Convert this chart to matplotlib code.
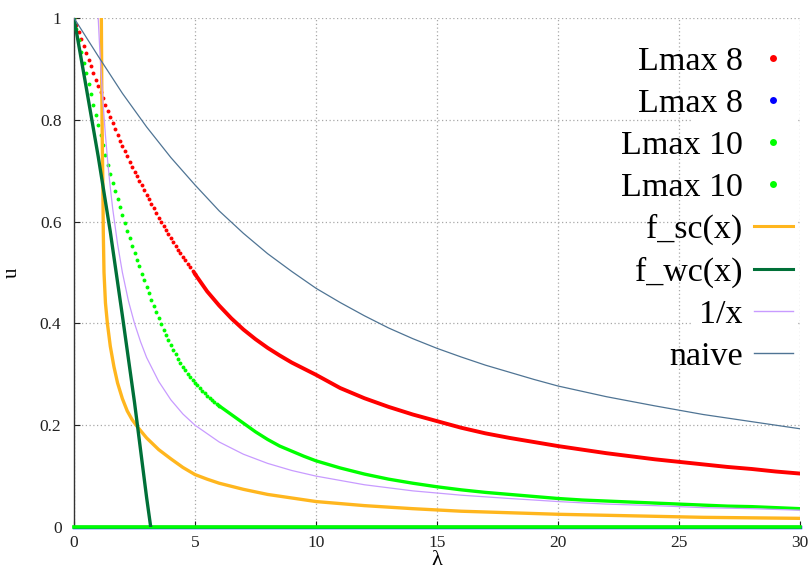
#!/usr/bin/env python3
from __future__ import annotations

import matplotlib

matplotlib.use("Agg")
import matplotlib.pyplot as plt
from matplotlib.lines import Line2D
from matplotlib.patches import Rectangle


# Lmax 8 (red): separate dots near the start, merged into a thick band later
RED_LAM_DOTS = [
    0.0, 0.1, 0.2, 0.3, 0.4, 0.5, 0.6, 0.7, 0.8, 0.9,
    1.0, 1.1, 1.2, 1.3, 1.4, 1.5, 1.6, 1.7, 1.8, 1.9,
    2.0, 2.1, 2.2, 2.3, 2.4, 2.5, 2.6, 2.7, 2.8, 2.9,
    3.0, 3.1, 3.2, 3.3, 3.4, 3.5, 3.6, 3.7, 3.8, 3.9,
    4.0, 4.1, 4.2, 4.3, 4.4, 4.5, 4.6, 4.7, 4.8, 4.9, 5.0,
]
RED_U_DOTS = [
    1.000, 0.986, 0.972, 0.958, 0.945, 0.931, 0.918, 0.905, 0.892, 0.879,
    0.867, 0.854, 0.842, 0.830, 0.818, 0.806, 0.794, 0.782, 0.770, 0.759,
    0.748, 0.738, 0.728, 0.718, 0.708, 0.698, 0.689, 0.680, 0.671, 0.662,
    0.653, 0.644, 0.635, 0.626, 0.617, 0.608, 0.599, 0.591, 0.583, 0.575,
    0.567, 0.559, 0.552, 0.545, 0.538, 0.531, 0.524, 0.517, 0.510, 0.503, 0.497,
]
RED_LAM_TAIL = [
    5.0, 5.5, 6.0, 6.5, 7.0, 7.5, 8.0, 8.5, 9.0, 9.5, 10, 11, 12, 13, 14, 15,
    16, 17, 18, 19, 20, 21, 22, 23, 24, 25, 26, 27, 28, 29, 30,
]
RED_U_TAIL = [
    0.497, 0.463, 0.435, 0.410, 0.388, 0.369, 0.352, 0.337, 0.323, 0.311,
    0.299, 0.273, 0.253, 0.236, 0.221, 0.208, 0.195, 0.184, 0.175, 0.167,
    0.159, 0.152, 0.145, 0.139, 0.133, 0.128, 0.123, 0.118, 0.114, 0.109, 0.105,
]

# Lmax 10 (green)
GREEN_LAM_DOTS = [
    0.0, 0.1, 0.2, 0.3, 0.4, 0.5, 0.6, 0.7, 0.8, 0.9,
    1.0, 1.1, 1.2, 1.3, 1.4, 1.5, 1.6, 1.7, 1.8, 1.9,
    2.0, 2.1, 2.2, 2.3, 2.4, 2.5, 2.6, 2.7, 2.8, 2.9,
    3.0, 3.1, 3.2, 3.3, 3.4, 3.5, 3.6, 3.7, 3.8, 3.9,
    4.0, 4.1, 4.2, 4.3, 4.4, 4.5, 4.6, 4.7, 4.8, 4.9,
    5.0, 5.1, 5.2, 5.3, 5.4, 5.5, 5.6, 5.7, 5.8, 5.9, 6.0,
]
GREEN_U_DOTS = [
    1.000, 0.978, 0.956, 0.934, 0.912, 0.891, 0.870, 0.850, 0.829, 0.809,
    0.789, 0.770, 0.750, 0.731, 0.712, 0.694, 0.676, 0.660, 0.644, 0.628,
    0.612, 0.597, 0.582, 0.567, 0.553, 0.539, 0.525, 0.512, 0.498, 0.485,
    0.472, 0.459, 0.446, 0.434, 0.422, 0.410, 0.399, 0.388, 0.377, 0.367,
    0.357, 0.348, 0.339, 0.331, 0.323, 0.315, 0.308, 0.301, 0.295, 0.289,
    0.283, 0.278, 0.273, 0.268, 0.263, 0.258, 0.254, 0.250, 0.246, 0.242, 0.238,
]
GREEN_LAM_TAIL = [
    6.0, 6.5, 7.0, 7.5, 8.0, 8.5, 9.0, 9.5, 10, 11, 12, 13, 14, 15,
    16, 17, 18, 19, 20, 21, 22, 23, 24, 25, 26, 27, 28, 29, 30,
]
GREEN_U_TAIL = [
    0.238, 0.221, 0.204, 0.187, 0.172, 0.159, 0.149, 0.139, 0.130, 0.116,
    0.104, 0.094, 0.086, 0.079, 0.073, 0.068, 0.064, 0.060, 0.056, 0.053,
    0.051, 0.049, 0.047, 0.045, 0.043, 0.041, 0.040, 0.038, 0.036,
]

# second Lmax 8 / Lmax 10 runs sit on u = 0
ZERO_LAM = [0, 5, 10, 15, 20, 25, 30]
ZERO_U = [0, 0, 0, 0, 0, 0, 0]

SC_LAM = [
    1.12, 1.13, 1.15, 1.17, 1.19, 1.21, 1.24, 1.30, 1.38, 1.50, 1.65, 1.80,
    2.0, 2.2, 2.4, 2.6, 3.0, 3.5, 4.0, 4.5, 5.0, 5.5, 6, 7, 8, 9, 10, 12, 14,
    16, 18, 20, 22, 24, 26, 28, 30,
]
SC_U = [
    1.05, 1.00, 0.85, 0.75, 0.68, 0.58, 0.50, 0.44, 0.40, 0.355, 0.315, 0.283,
    0.252, 0.228, 0.211, 0.198, 0.175, 0.152, 0.134, 0.117, 0.103, 0.094,
    0.086, 0.074, 0.064, 0.057, 0.050, 0.042, 0.036, 0.031, 0.028, 0.025,
    0.023, 0.021, 0.019, 0.018, 0.017,
]

WC_LAM = [0.0, 0.5, 1.0, 1.5, 2.0, 2.5, 3.0, 3.17]
WC_U = [1.0, 0.865, 0.728, 0.58, 0.415, 0.245, 0.058, 0.0]

INV_LAM = [
    0.97, 1.0, 1.05, 1.1, 1.2, 1.3, 1.4, 1.5, 1.6, 1.8, 2.0, 2.25, 2.5, 2.75,
    3.0, 3.5, 4.0, 4.5, 5, 6, 7, 8, 9, 10, 12, 14, 16, 18, 20, 22, 24, 26, 28, 30,
]
INV_U = [
    1.031, 1.0, 0.952, 0.909, 0.833, 0.769, 0.714, 0.667, 0.625, 0.556, 0.5,
    0.444, 0.4, 0.364, 0.333, 0.286, 0.25, 0.222, 0.2, 0.167, 0.143, 0.125,
    0.111, 0.1, 0.083, 0.071, 0.0625, 0.056, 0.05, 0.045, 0.042, 0.038,
    0.036, 0.033,
]

NAIVE_LAM = [0, 1, 2, 3, 4, 5, 6, 7, 8, 9, 10, 11, 12, 13, 14, 15, 16, 17,
             18, 19, 20, 22, 24, 26, 28, 30]
NAIVE_U = [1.0, 0.925, 0.852, 0.786, 0.726, 0.672, 0.621, 0.577, 0.537,
           0.502, 0.469, 0.441, 0.415, 0.391, 0.370, 0.351, 0.334, 0.318,
           0.304, 0.290, 0.277, 0.256, 0.238, 0.221, 0.207, 0.193]

X_TICKS = [0, 5, 10, 15, 20, 25, 30]
Y_TICKS = [0, 0.2, 0.4, 0.6, 0.8, 1]
Y_TICK_LABELS = ["0", "0.2", "0.4", "0.6", "0.8", "1"]

LEGEND_LABELS = ["Lmax 8", "Lmax 8", "Lmax 10", "Lmax 10",
                 "f_sc(x)", "f_wc(x)", "1/x", "naive"]

RED = "#ff0000"
BLUE = "#0000ff"
GREEN = "#00ff00"
ORANGE = "#ffb61e"
DARK_GREEN = "#007038"
LAVENDER = "#c89bff"
STEEL = "#4f7494"

SERIF = ["Liberation Serif", "DejaVu Serif"]


def main() -> int:
    plt.rcParams["font.family"] = SERIF
    W, H = 811, 574
    fig = plt.figure(figsize=(W / 100, H / 100), dpi=100)
    x0, x1, y0, y1 = 74, 800, 527, 18
    ax = fig.add_axes([x0 / W, 1 - y0 / H, (x1 - x0) / W, (y0 - y1) / H])

    ax.set_xlim(0, 30)
    ax.set_ylim(0, 1)
    ax.set_xticks(X_TICKS)
    ax.set_yticks(Y_TICKS)
    ax.set_yticklabels(Y_TICK_LABELS)
    ax.tick_params(axis="both", direction="in", length=4, width=0.8,
                   labelsize=12.5, colors="#222222")
    ax.tick_params(axis="x", pad=6)
    ax.tick_params(axis="y", pad=9)

    ax.set_axisbelow(True)
    ax.grid(True, color="#a8a8a8", linestyle=(0, (1, 2)), linewidth=0.9)
    for side in ("top", "right"):
        ax.spines[side].set_visible(False)
    for side in ("left", "bottom"):
        ax.spines[side].set_color("#333333")
        ax.spines[side].set_linewidth(1.0)

    # opaque patch behind the key: hides the horizontal grid on the right
    ax.add_patch(Rectangle((692 / W, 1 - 375 / H), 106 / W, 345 / H,
                           transform=fig.transFigure, facecolor="white",
                           edgecolor="none", zorder=1))

    dot = dict(linestyle="none", marker="o", markersize=2.8, markeredgewidth=0)
    ax.plot(RED_LAM_DOTS, RED_U_DOTS, color=RED, zorder=3, **dot)
    ax.plot(RED_LAM_TAIL, RED_U_TAIL, color=RED, linewidth=2.8, zorder=3)
    ax.plot(ZERO_LAM, ZERO_U, color=BLUE, linewidth=2.5, zorder=3, clip_on=False)
    ax.plot(GREEN_LAM_DOTS, GREEN_U_DOTS, color=GREEN, zorder=3, **dot)
    ax.plot(GREEN_LAM_TAIL, GREEN_U_TAIL, color=GREEN, linewidth=2.4, zorder=3)
    ax.plot(ZERO_LAM, ZERO_U, color=GREEN, linewidth=2.6, zorder=3, clip_on=False)
    ax.plot(SC_LAM, SC_U, color=ORANGE, linewidth=2.4, zorder=4)
    ax.plot(WC_LAM, WC_U, color=DARK_GREEN, linewidth=2.4, zorder=4)
    ax.plot(INV_LAM, INV_U, color=LAVENDER, linewidth=0.9, zorder=4)
    ax.plot(NAIVE_LAM, NAIVE_U, color=STEEL, linewidth=0.9, zorder=4)

    ax.set_xlabel("λ", fontsize=16, labelpad=0)
    ax.set_ylabel("u", fontsize=15)
    ax.yaxis.set_label_coords(-52 / (x1 - x0), 0.5)

    mk = dict(linestyle="none", marker="o", markersize=5, markeredgewidth=0)
    handles = [
        Line2D([], [], color=RED, **mk),
        Line2D([], [], color=BLUE, **mk),
        Line2D([], [], color=GREEN, **mk),
        Line2D([], [], color=GREEN, **mk),
        Line2D([], [], color=ORANGE, linewidth=2.2),
        Line2D([], [], color=DARK_GREEN, linewidth=2.2),
        Line2D([], [], color=LAVENDER, linewidth=1.0),
        Line2D([], [], color=STEEL, linewidth=1.0),
    ]
    fig.legend(handles, LEGEND_LABELS, loc="upper right",
               bbox_to_anchor=(793 / W, 1 - 46 / H), frameon=False,
               markerfirst=False, fontsize=24.5, handlelength=1.15,
               handletextpad=0.33, labelspacing=0.33, borderpad=0,
               borderaxespad=0)

    fig.savefig("out.png", dpi=100)
    plt.close(fig)
    return 0


if __name__ == "__main__":
    raise SystemExit(main())
